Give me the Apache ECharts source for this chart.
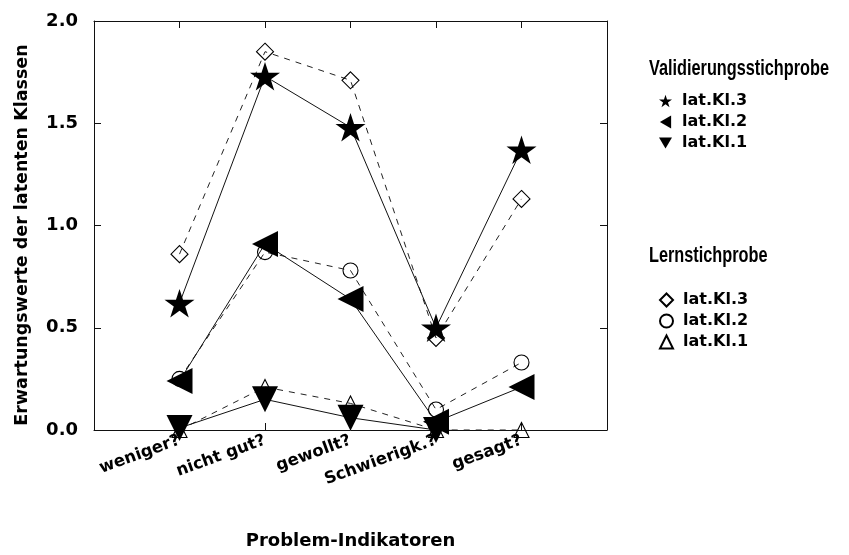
<!DOCTYPE html>
<html>
<head>
<meta charset="utf-8">
<script src="https://cdn.jsdelivr.net/npm/echarts@6/dist/echarts.min.js"></script>
<style>html,body{margin:0;padding:0;background:#fff;}#c{width:849px;height:555px;}</style>
</head>
<body>
<div id="c"></div>
<script>
const categories = ['weniger?', 'nicht gut?', 'gewollt?', 'Schwierigk.?', 'gesagt?'];
const yTicks = [0.0, 0.5, 1.0, 1.5, 2.0];
// Validierungsstichprobe
const valKl3 = [0.62, 1.73, 1.48, 0.50, 1.37];
const valKl2 = [0.24, 0.91, 0.64, 0.04, 0.21];
const valKl1 = [0.01, 0.15, 0.06, 0.00, -0.01];
// Lernstichprobe
const lernKl3 = [0.86, 1.85, 1.71, 0.45, 1.13];
const lernKl2 = [0.25, 0.87, 0.78, 0.10, 0.33];
const lernKl1 = [0.00, 0.21, 0.13, 0.00, 0.00];

const STAR = 'path://M0,-1L0.2245,-0.309L0.951,-0.309L0.363,0.118L0.588,0.809L0,0.382L-0.588,0.809L-0.363,0.118L-0.951,-0.309L-0.2245,-0.309Z';
const DIAM = 'path://M0,-1L1,0L0,1L-1,0Z';
const TRI_L = 'path://M0,0L1,-0.58L1,0.58Z';
const TRI_D = 'path://M0,0L1.16,0L0.58,1Z';
const BOLD = 'DejaVu Sans';

function pts(arr){ return arr.map((v,i)=>[i+1, v]); }

function solid(name, data, symbol, size, rot){
  return {
    type:'line', name, data:pts(data), symbol, symbolSize:size, symbolRotate:rot||0,
    symbolKeepAspect:true, z:5,
    lineStyle:{color:'#111', width:1, type:'solid'},
    itemStyle:{color:'#000', borderColor:'#000', borderWidth:0},
    emphasis:{disabled:true}, animation:false
  };
}
function dashed(name, data, symbol, size){
  return {
    type:'line', name, data:pts(data), symbol, symbolSize:size,
    symbolKeepAspect:true, z:3,
    lineStyle:{color:'#222', width:1, type:[6,6]},
    itemStyle:{color:'rgba(255,255,255,0)', borderColor:'#000', borderWidth:1.1},
    emphasis:{disabled:true}, animation:false
  };
}

const chart = echarts.init(document.getElementById('c'), null, {renderer:'canvas'});
const legendText = {fontFamily:BOLD, fontWeight:'bold', fontSize:16, color:'#000', padding:[0,0,0,5]};
const lineAx = {show:true, onZero:false, lineStyle:{color:'#111', width:1}};
const tickIn = {show:true, inside:true, length:7, lineStyle:{color:'#111'}};
chart.setOption({
  backgroundColor:'#fff',
  animation:false,
  graphic:[
    {type:'text', x:649, y:69, scaleX:0.74,
     style:{text:'Validierungsstichprobe', font:'bold 22px "Liberation Sans"', fill:'#000', verticalAlign:'middle', textVerticalAlign:'middle'}},
    {type:'text', x:649, y:256, scaleX:0.74,
     style:{text:'Lernstichprobe', font:'bold 22px "Liberation Sans"', fill:'#000', verticalAlign:'middle', textVerticalAlign:'middle'}},
    {type:'text', x:22, y:235, rotation:Math.PI/2,
     style:{text:'Erwartungswerte der latenten Klassen', font:'bold 17.5px "DejaVu Sans"', fill:'#000',
            align:'center', verticalAlign:'middle', textAlign:'center', textVerticalAlign:'middle'}}
  ],
  legend:[
    {orient:'vertical', left:654, top:88, itemWidth:13, itemHeight:13, itemGap:5,
     data:[{name:'V3', icon:STAR},{name:'V2', icon:TRI_L},{name:'V1', icon:TRI_D}],
     formatter:n=>'lat.Kl.'+n.slice(1), textStyle:legendText, selectedMode:false},
    {orient:'vertical', left:654, top:287, itemWidth:13, itemHeight:13, itemGap:5,
     data:[{name:'L3', icon:DIAM},{name:'L2', icon:'circle'},{name:'L1', icon:'triangle'}],
     formatter:n=>'lat.Kl.'+n.slice(1), textStyle:legendText, selectedMode:false}
  ],
  grid:{left:94, right:242, top:21, bottom:119, containLabel:false},
  xAxis:[
    {type:'value', min:0, max:6, interval:1, position:'bottom',
     name:'Problem-Indikatoren', nameLocation:'middle', nameGap:102,
     nameTextStyle:{fontFamily:BOLD, fontWeight:'bold', fontSize:18, color:'#000'},
     axisLine:lineAx, axisTick:tickIn, splitLine:{show:false},
     axisLabel:{rotate:20, margin:10, fontFamily:BOLD, fontWeight:'bold', fontSize:16.5, color:'#000',
       formatter:v=> (v>=1 && v<=categories.length) ? categories[v-1] : ''}
    },
    {type:'value', min:0, max:6, interval:1, position:'top',
     axisLine:lineAx, axisTick:tickIn, splitLine:{show:false}, axisLabel:{show:false}}
  ],
  yAxis:[
    {type:'value', min:0, max:2, interval:0.5, position:'left',
     axisLine:lineAx, axisTick:tickIn, splitLine:{show:false},
     axisLabel:{margin:16, fontFamily:BOLD, fontWeight:'bold', fontSize:18, color:'#000',
       formatter:v=>{const t=yTicks.find(x=>Math.abs(x-v)<1e-9); return t===undefined?'':t.toFixed(1);}}
    },
    {type:'value', min:0, max:2, interval:0.5, position:'right',
     axisLine:lineAx, axisTick:tickIn, splitLine:{show:false}, axisLabel:{show:false}}
  ],
  series:[
    dashed('L3', lernKl3, DIAM, 17),
    dashed('L2', lernKl2, 'circle', 15),
    dashed('L1', lernKl1, 'triangle', 15),
    solid('V3', valKl3, STAR, 30),
    solid('V2', valKl2, 'triangle', 26, 90),
    solid('V1', valKl1, 'triangle', 26, 180)
  ]
});
</script>
</body>
</html>
